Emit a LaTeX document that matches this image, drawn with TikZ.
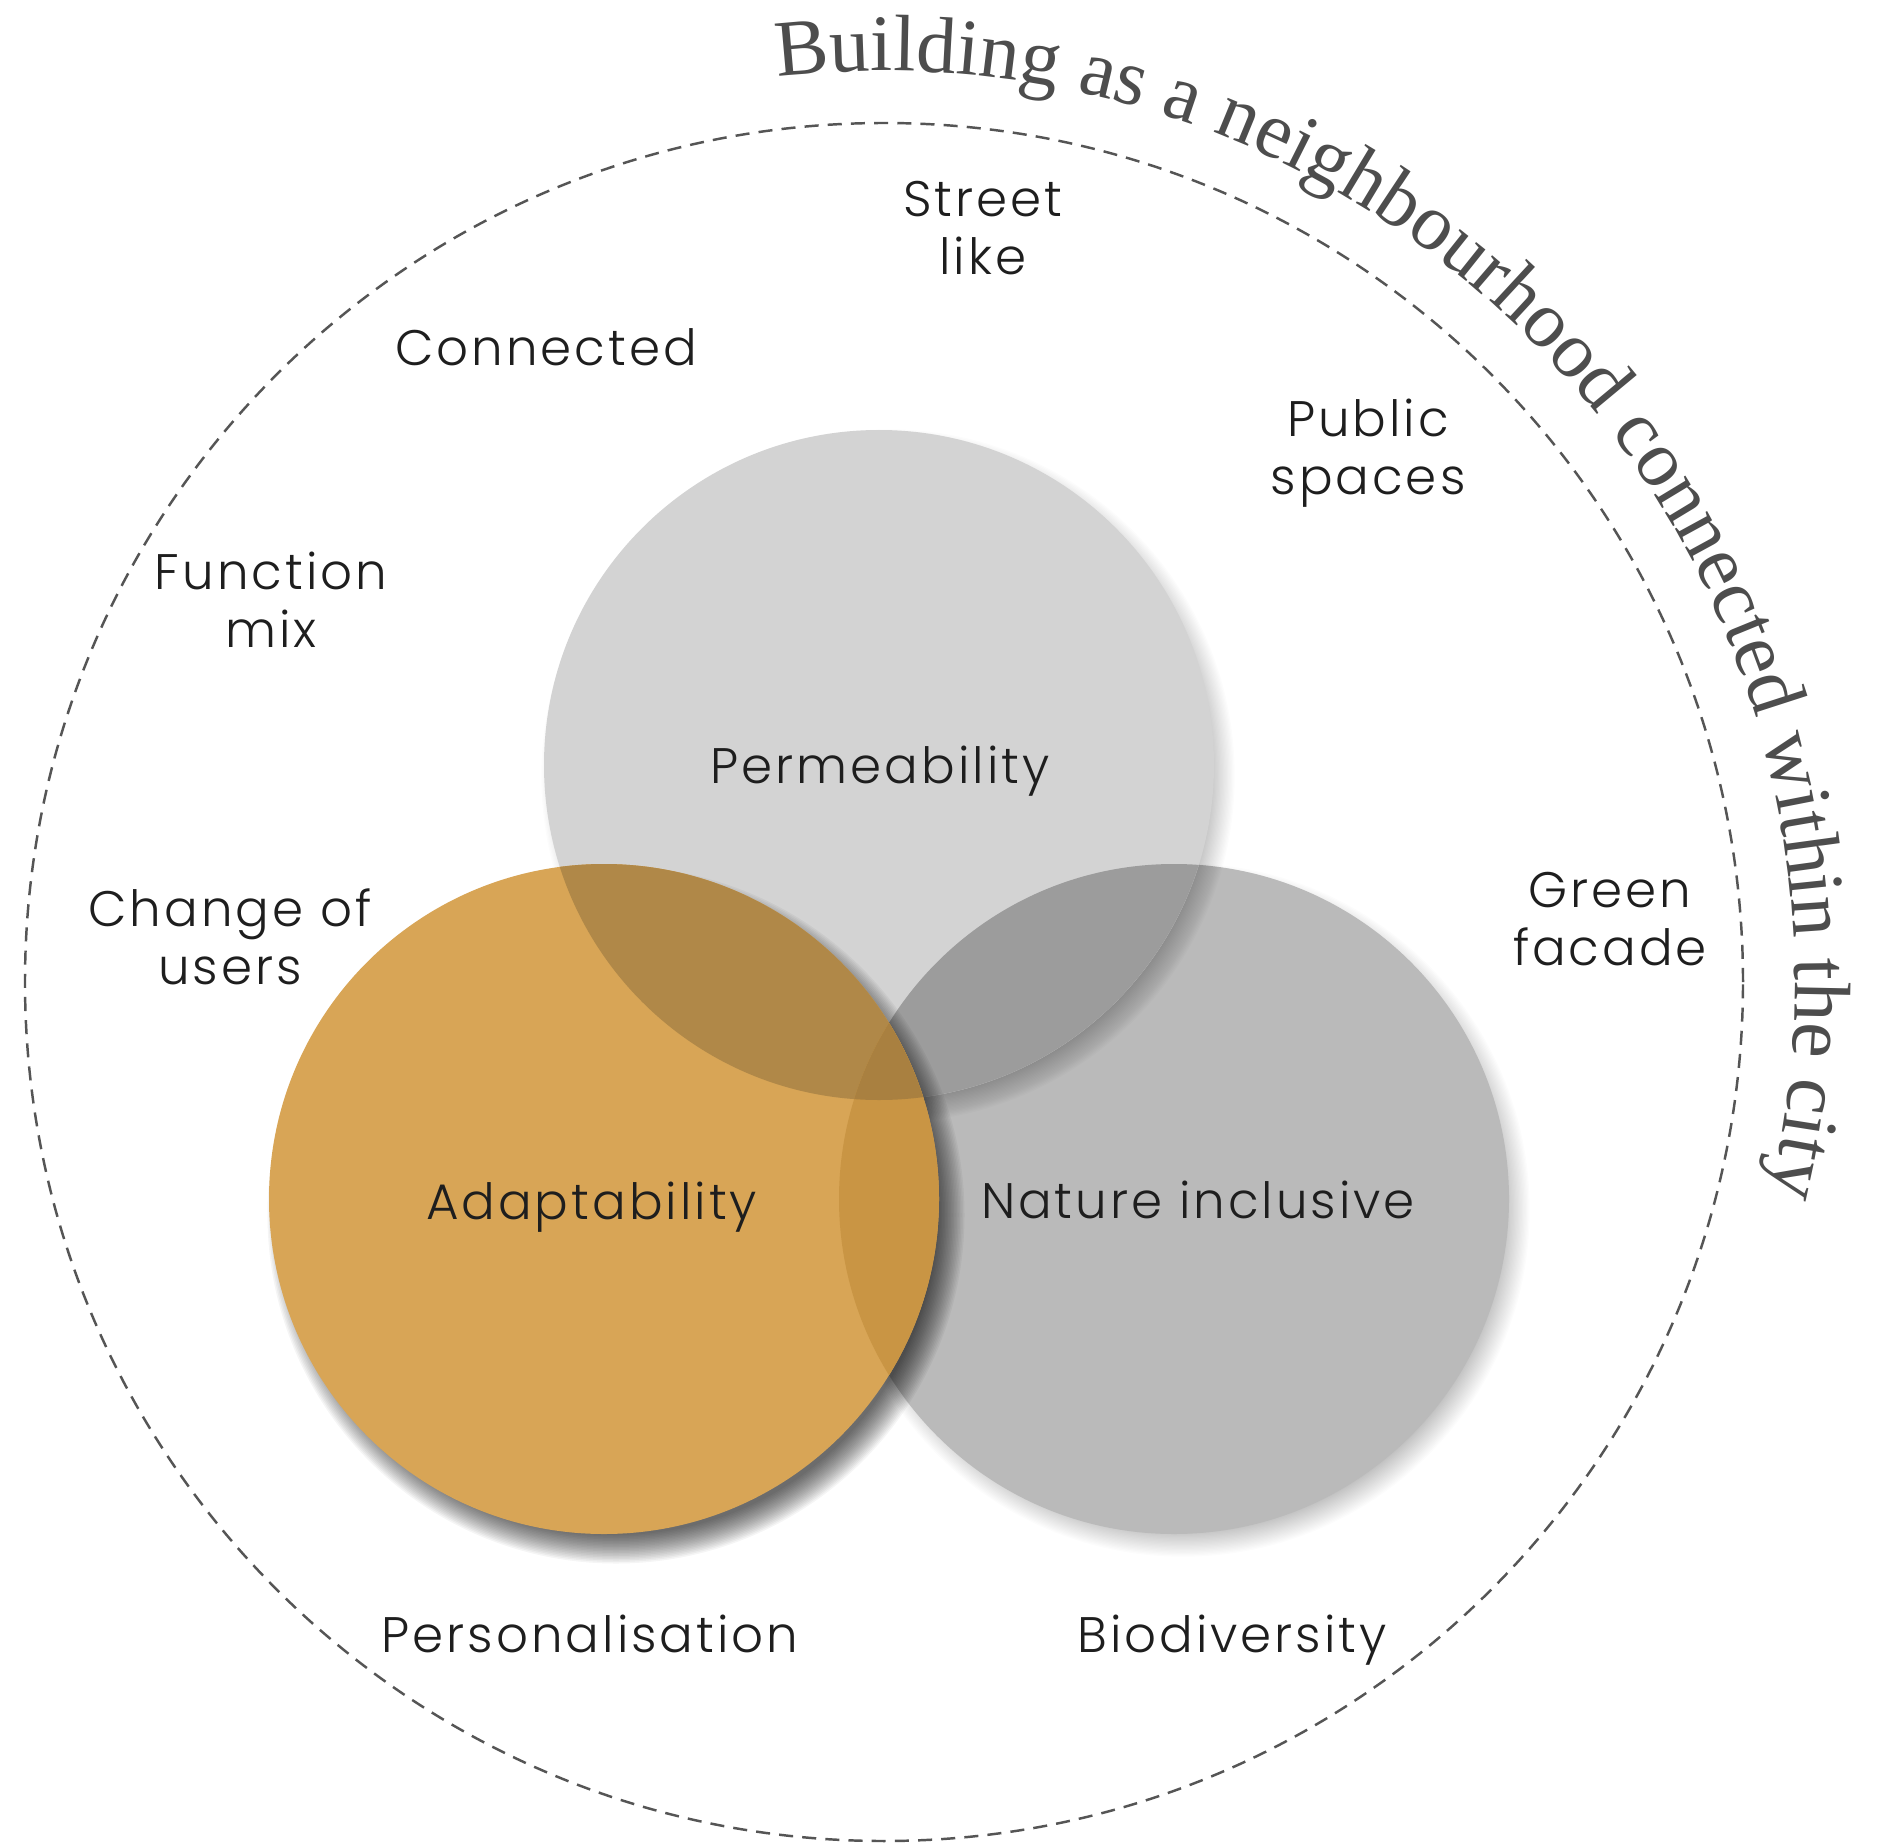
\documentclass[tikz,border=0pt]{standalone}
\usepackage{fontspec}
\usetikzlibrary{calc,decorations.text}
\IfFontExistsTF{Poppins Light}{\newfontfamily\lblfont{Poppins Light}[LetterSpace=6]}{\newfontfamily\lblfont{Poppins}[LetterSpace=6]}
\newfontfamily\titlefont{Liberation Serif}
\definecolor{permc}{HTML}{D3D3D3}
\definecolor{natc}{HTML}{BABABA}
\definecolor{orc}{HTML}{D8A556}
\definecolor{pnc}{HTML}{9C9C9C}
\definecolor{poc}{HTML}{B08848}
\definecolor{onc}{HTML}{C99544}
\definecolor{pocn}{HTML}{A98040}
\definecolor{labelc}{HTML}{1E1E1E}
\definecolor{titlec}{HTML}{4D4D4D}
\definecolor{dashc}{HTML}{555555}
\newcommand\softshadow[4]{% center, radius, step opacity, width
  \foreach \k in {0,...,19}{\fill[black,opacity=#3] #1 circle[radius={#2-#4/2+#4*\k/20}];}}
\tikzset{
  lbl/.style={font=\lblfont\fontsize{14.2pt}{16.5pt}\selectfont, text=labelc, inner sep=0pt, align=center},
  bigring/.style={draw=dashc, line width=0.7pt, dash pattern=on 4pt off 2.6pt}
}
\begin{document}
\begin{tikzpicture}
\useasboundingbox (0,0) rectangle (18.94,-18.45);
\fill[white] (0,0) rectangle (18.94,-18.45);
\coordinate (cD) at (8.84,-9.82);
\coordinate (cP) at (8.79,-7.65);
\coordinate (cO) at (6.04,-11.99);
\coordinate (cN) at (11.74,-11.99);
\def\R{3.35}
% outer dashed ring
\draw[bigring] (cD) circle[radius=8.59];
% nature inclusive
\softshadow{($(cN)+(0.09,-0.11)$)}{\R}{0.01}{0.26}
\fill[natc] (cN) circle[radius=\R];
% permeability
\softshadow{($(cP)+(0.09,-0.11)$)}{\R}{0.01}{0.26}
\fill[permc] (cP) circle[radius=\R];
\begin{scope}
  \clip (cP) circle[radius=\R];
  \fill[pnc] (cN) circle[radius=\R];
\end{scope}
% adaptability
\softshadow{($(cO)+(0.12,-0.16)$)}{\R}{0.04}{0.30}
\fill[orc] (cO) circle[radius=\R];
\begin{scope}
  \clip (cO) circle[radius=\R];
  \fill[poc] (cP) circle[radius=\R];
  \fill[onc] (cN) circle[radius=\R];
  \clip (cP) circle[radius=\R];
  \fill[pocn] (cN) circle[radius=\R];
\end{scope}
% title along arc
\path[decorate, decoration={text along path, text align=left, text color=titlec,
  text={|\titlefont\fontsize{22.75pt}{26pt}\selectfont|Building as a neighbourhood connected within the city}}]
  ($(cD)+(96.7:9.11)$) arc[start angle=96.7, end angle=-40, radius=9.11];
% labels
\node[lbl] (street) at (9.83,-2.285) {Street\\like};
\node[lbl, anchor=base] (connected) at (5.46,-3.66) {Connected};
\node[lbl] (public) at (13.68,-4.53) {Public\\spaces};
\node[lbl] (function) at (2.71,-6.00) {Function\\mix};
\node[lbl, anchor=base] (permeability) at (8.80,-7.83) {Permeability};
\node[lbl] (change) at (2.30,-9.37) {Change of\\users};
\node[lbl] (green) at (16.10,-9.19) {Green\\facade};
\node[lbl, anchor=base] (adaptability) at (5.915,-12.19) {Adaptability};
\node[lbl, anchor=base] (nature) at (11.98,-12.18) {Nature inclusive};
\node[lbl, anchor=base] (personal) at (5.90,-16.52) {Personalisation};
\node[lbl, anchor=base] (biodiv) at (12.32,-16.52) {Biodiversity};
\end{tikzpicture}
\end{document}
